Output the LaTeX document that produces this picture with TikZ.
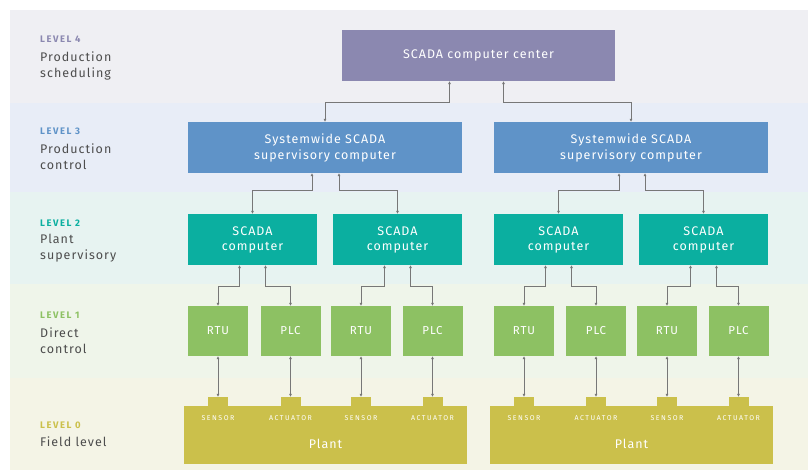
\documentclass[tikz,border=0pt]{standalone}
\usepackage{fontspec}
\setmainfont{Fira Sans}[LetterSpace=8]
\newfontfamily\lvlfont{Fira Sans Bold}[LetterSpace=16]
\newfontfamily\tagfont{Fira Sans}[LetterSpace=22]
\usetikzlibrary{arrows.meta}

\definecolor{lvfour}{HTML}{8B88B0}
\definecolor{lvthree}{HTML}{5F93C8}
\definecolor{lvtwo}{HTML}{0BAFA0}
\definecolor{lvone}{HTML}{8DC163}
\definecolor{lvzero}{HTML}{CBC04B}
\definecolor{bgfour}{HTML}{EFEFF3}
\definecolor{bgthree}{HTML}{E8EDF7}
\definecolor{bgtwo}{HTML}{E7F3F1}
\definecolor{bgone}{HTML}{EFF5EA}
\definecolor{bgzero}{HTML}{F4F4E6}
\definecolor{lbltext}{HTML}{4D4D4D}
\definecolor{linegray}{HTML}{777777}

\begin{document}
\begin{tikzpicture}[x=1pt, y=-1pt,
    every node/.style={font=\fontsize{12.5}{16}\selectfont, align=center, inner sep=0pt},
    box/.style={rectangle, text=white, minimum height=51pt},
    ctrbox/.style={box, fill=lvfour, minimum width=273pt},
    sysbox/.style={box, fill=lvthree, minimum width=274pt},
    scbox/.style={box, fill=lvtwo, minimum width=129pt, font=\fontsize{12.5}{15}\selectfont},
    devbox/.style={box, fill=lvone, minimum width=60pt, minimum height=50pt, font=\fontsize{11.5}{13}\selectfont},
    plantbox/.style={rectangle, fill=lvzero, minimum width=283pt, minimum height=58pt},
    tab/.style={rectangle, fill=lvzero, minimum width=20pt, minimum height=9pt},
    tag/.style={text=white, font=\tagfont\fontsize{7}{8}\selectfont},
    lvhead/.style={anchor=base west, font=\lvlfont\fontsize{9.5}{10}\selectfont},
    lvl/.style={anchor=base west, align=left, text=lbltext, font=\fontsize{12.5}{16}\selectfont},
    arr/.style={{Latex[length=3pt,width=3pt]}-{Latex[length=3pt,width=3pt]}, linegray, line width=0.9pt}
]
\useasboundingbox (0,0) rectangle (808,471);

% level bands
\fill[bgfour]  (10,10)  rectangle (808,103);
\fill[bgthree] (10,103) rectangle (808,192);
\fill[bgtwo]   (10,192) rectangle (808,284);
\fill[bgone]   (10,284) rectangle (808,378);
\fill[bgzero]  (10,378) rectangle (808,470);

\node[lvhead, text=lvfour]  (hd4) at (40,42)    {LEVEL 4};
\node[lvl]                  (lb4) at (40,77)    {Production\\scheduling};
\node[lvhead, text=lvthree] (hd3) at (40,134)   {LEVEL 3};
\node[lvl]                  (lb3) at (40,169)   {Production\\control};
\node[lvhead, text=lvtwo]   (hd2) at (40,226.5) {LEVEL 2};
\node[lvl]                  (lb2) at (40,259)   {Plant\\supervisory};
\node[lvhead, text=lvone]   (hd1) at (40,318.5) {LEVEL 1};
\node[lvl]                  (lb1) at (40,353)   {Direct\\control};
\node[lvhead, text=lvzero]  (hd0) at (40,428)   {LEVEL 0};
\node[lvl]                  (lb0) at (40,446)   {Field level};

% boxes
\node[ctrbox] (ctr) at (478.5,55.5) {SCADA computer center};
\node[sysbox] (sys1) at (325,147.5) {Systemwide SCADA\\supervisory computer};
\node[sysbox] (sys2) at (631,147.5) {Systemwide SCADA\\supervisory computer};
\node[scbox] (sc1) at (252.5,239.5) {SCADA\\computer};
\node[scbox] (sc2) at (397.5,239.5) {SCADA\\computer};
\node[scbox] (sc3) at (558.5,239.5) {SCADA\\computer};
\node[scbox] (sc4) at (703.5,239.5) {SCADA\\computer};
\node[devbox] (rtu1) at (218,331)   {RTU};
\node[devbox] (plc1) at (290.5,331) {PLC};
\node[devbox] (rtu2) at (361,331)   {RTU};
\node[devbox] (plc2) at (432.5,331) {PLC};
\node[devbox] (rtu3) at (524,331)   {RTU};
\node[devbox] (plc3) at (596,331)   {PLC};
\node[devbox] (rtu4) at (667,331)   {RTU};
\node[devbox] (plc4) at (738.5,331) {PLC};

% plants
\node[plantbox] (plant1) at (325.5,435) {};
\node[plantbox] (plant2) at (631.5,435) {};
\node[tab] (io1) at (218,401.5)   {};
\node[tab] (io2) at (290.5,401.5) {};
\node[tab] (io3) at (361,401.5)   {};
\node[tab] (io4) at (432.5,401.5) {};
\node[tab] (io5) at (524,401.5)   {};
\node[tab] (io6) at (596,401.5)   {};
\node[tab] (io7) at (667,401.5)   {};
\node[tab] (io8) at (738.5,401.5) {};
\node[tag] (t1) at (218,418.5)   {SENSOR};
\node[tag] (t2) at (290.5,418.5) {ACTUATOR};
\node[tag] (t3) at (361,418.5)   {SENSOR};
\node[tag] (t4) at (432.5,418.5) {ACTUATOR};
\node[tag] (t5) at (524,418.5)   {SENSOR};
\node[tag] (t6) at (596,418.5)   {ACTUATOR};
\node[tag] (t7) at (667,418.5)   {SENSOR};
\node[tag] (t8) at (738.5,418.5) {ACTUATOR};
\node[text=white, anchor=base] (pl1) at (325.5,448) {Plant};
\node[text=white, anchor=base] (pl2) at (631.5,448) {Plant};

% links
\draw[arr] ([xshift=-29pt]ctr.south) -- ++(0,21) -| (sys1.north);
\draw[arr] ([xshift=25pt]ctr.south) -- ++(0,21) -| (sys2.north);
\draw[arr] ([xshift=-13pt]sys1.south) -- ++(0,17) -| (sc1.north);
\draw[arr] ([xshift=14pt]sys1.south) -- ++(0,17) -| (sc2.north);
\draw[arr] ([xshift=-12pt]sys2.south) -- ++(0,17) -| (sc3.north);
\draw[arr] ([xshift=14pt]sys2.south) -- ++(0,17) -| (sc4.north);
\draw[arr] ([xshift=-13pt]sc1.south) -- ++(0,21) -| (rtu1.north);
\draw[arr] ([xshift=13pt]sc1.south) -- ++(0,21) -| (plc1.north);
\draw[arr] ([xshift=-13pt]sc2.south) -- ++(0,21) -| (rtu2.north);
\draw[arr] ([xshift=13pt]sc2.south) -- ++(0,21) -| (plc2.north);
\draw[arr] ([xshift=-13pt]sc3.south) -- ++(0,21) -| (rtu3.north);
\draw[arr] ([xshift=13pt]sc3.south) -- ++(0,21) -| (plc3.north);
\draw[arr] ([xshift=-13pt]sc4.south) -- ++(0,21) -| (rtu4.north);
\draw[arr] ([xshift=13pt]sc4.south) -- ++(0,21) -| (plc4.north);
\draw[arr] (rtu1.south) -- (io1.north);
\draw[arr] (plc1.south) -- (io2.north);
\draw[arr] (rtu2.south) -- (io3.north);
\draw[arr] (plc2.south) -- (io4.north);
\draw[arr] (rtu3.south) -- (io5.north);
\draw[arr] (plc3.south) -- (io6.north);
\draw[arr] (rtu4.south) -- (io7.north);
\draw[arr] (plc4.south) -- (io8.north);
\end{tikzpicture}
\end{document}
